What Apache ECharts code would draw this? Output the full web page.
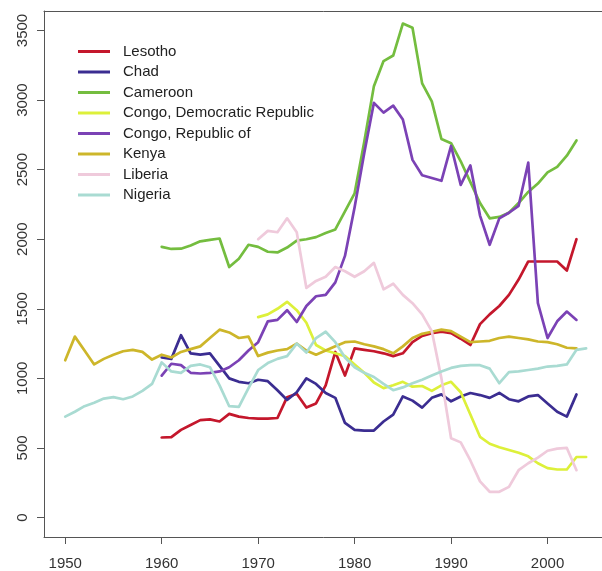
<!DOCTYPE html>
<html>
<head>
<meta charset="utf-8">
<title>GDP per capita – selected African countries</title>
<script src="https://cdn.jsdelivr.net/npm/echarts@6/dist/echarts.min.js"></script>
<style>
  html, body { margin: 0; padding: 0; background: #ffffff; }
  #chart { width: 602px; height: 571px; }
</style>
</head>
<body>
<div id="chart"></div>
<script>
// Years covered by the series (1950–2004); null = no observation
const years = [
  1950, 1951, 1952, 1953, 1954, 1955, 1956, 1957, 1958, 1959,
  1960, 1961, 1962, 1963, 1964, 1965, 1966, 1967, 1968, 1969,
  1970, 1971, 1972, 1973, 1974, 1975, 1976, 1977, 1978, 1979,
  1980, 1981, 1982, 1983, 1984, 1985, 1986, 1987, 1988, 1989,
  1990, 1991, 1992, 1993, 1994, 1995, 1996, 1997, 1998, 1999,
  2000, 2001, 2002, 2003, 2004
];

const lesotho = [
  null, null, null, null, null, null, null, null, null, null,
  575, 578, 630, 665, 700, 705, 690, 745, 725, 715,
  710, 710, 715, 865, 890, 790, 820, 950, 1190, 1020,
  1215, 1205, 1195, 1180, 1160, 1180, 1260, 1305, 1325, 1335,
  1325, 1285, 1240, 1390, 1460, 1520, 1600, 1710, 1840, 1840,
  1840, 1840, 1775, 2000, null
];

const chad = [
  null, null, null, null, null, null, null, null, null, null,
  1150, 1140, 1310, 1180, 1170, 1180, 1090, 1000, 975, 965,
  990, 980, 915, 845, 900, 1000, 960, 895, 860, 680,
  630, 625, 625, 690, 740, 870, 840, 790, 860, 885,
  835, 870, 895, 880, 860, 895, 850, 835, 870, 880,
  820, 760, 725, 885, null
];

const cameroon = [
  null, null, null, null, null, null, null, null, null, null,
  1945, 1930, 1932, 1955, 1985, 1995, 2005, 1800, 1860, 1960,
  1945, 1910, 1905, 1940, 1990, 2000, 2015, 2045, 2070, 2200,
  2330, 2700, 3100, 3280, 3320, 3550, 3520, 3120, 2990, 2720,
  2690, 2560, 2410, 2260, 2150, 2160, 2190, 2260, 2340, 2400,
  2480, 2520, 2600, 2710, null
];

const congoDR = [
  null, null, null, null, null, null, null, null, null, null,
  null, null, null, null, null, null, null, null, null, null,
  1440, 1460, 1500, 1550, 1490, 1400, 1240, 1200, 1180, 1160,
  1100, 1040, 970, 930, 950, 975, 940, 945, 910, 950,
  975, 900, 740, 580, 530, 505, 485, 465, 440, 390,
  355, 345, 345, 435, 435
];

const congoRep = [
  null, null, null, null, null, null, null, null, null, null,
  1020, 1105, 1095, 1040, 1035, 1040, 1050, 1080, 1130, 1200,
  1260, 1410, 1420, 1490, 1405, 1520, 1590, 1600, 1690, 1880,
  2230, 2620, 2980, 2910, 2960, 2860, 2570, 2460, 2440, 2420,
  2670, 2390, 2530, 2170, 1960, 2150, 2190, 2240, 2550, 1540,
  1290, 1410, 1480, 1420, null
];

const kenya = [
  1130, 1300, 1200, 1100, 1140, 1170, 1195, 1205, 1190, 1135,
  1170, 1150, 1190, 1210, 1230, 1290, 1350, 1330, 1290, 1300,
  1160, 1185, 1200, 1210, 1250, 1200, 1170, 1200, 1230, 1260,
  1265, 1245, 1230, 1210, 1180, 1230, 1290, 1320, 1335, 1350,
  1340, 1300, 1260, 1265, 1270, 1290, 1300, 1290, 1280, 1265,
  1260, 1245, 1220, 1215, null
];

const liberia = [
  null, null, null, null, null, null, null, null, null, null,
  null, null, null, null, null, null, null, null, null, null,
  2000, 2060, 2050, 2150, 2050, 1650, 1700, 1730, 1800, 1770,
  1730, 1770, 1830, 1640, 1680, 1600, 1540, 1460, 1340, 1000,
  570, 540, 410, 260, 185, 185, 220, 340, 390, 430,
  480, 495, 500, 340, null
];

const nigeria = [
  725, 760, 800, 825, 855, 865, 850, 870, 910, 960,
  1115, 1050, 1040, 1090, 1100, 1080, 950, 800, 795, 930,
  1060, 1110, 1140, 1160, 1250, 1185, 1290, 1335, 1260, 1150,
  1080, 1040, 1010, 960, 915, 935, 965, 990, 1020, 1050,
  1075, 1090, 1095, 1095, 1070, 965, 1045, 1050, 1060, 1070,
  1085, 1090, 1100, 1205, 1215
];

const countryNames = [
  'Lesotho', 'Chad', 'Cameroon', 'Congo, Democratic Republic',
  'Congo, Republic of', 'Kenya', 'Liberia', 'Nigeria'
];
const countryValues = [lesotho, chad, cameroon, congoDR, congoRep, kenya, liberia, nigeria];
const countryColors = [
  '#c4172c', '#3b2d91', '#74bd3f', '#ddf03a',
  '#7b42b5', '#cdb62a', '#efcadb', '#a9dbd2'
];

const xTicks = [1950, 1960, 1970, 1980, 1990, 2000];
const yTicks = [0, 500, 1000, 1500, 2000, 2500, 3000, 3500];

const FONT = '"Liberation Sans", Arial, Helvetica, sans-serif';
const AXIS_COLOR = '#555';
const X_MIN = 1947.8, X_MAX = 2007.2;

function toPairs(values) {
  const out = [];
  values.forEach((v, i) => { if (v !== null) out.push([years[i], v]); });
  return out;
}

const series = countryNames.map((name, i) => ({
  name: name,
  type: 'line',
  data: toPairs(countryValues[i]),
  showSymbol: false,
  symbol: 'none',
  smooth: false,
  color: countryColors[i],
  lineStyle: { width: 2.7, color: countryColors[i], cap: 'round', join: 'round' },
  emphasis: { disabled: true },
  animation: false
}));

const chart = echarts.init(document.getElementById('chart'), null, { renderer: 'canvas' });

chart.setOption({
  backgroundColor: '#ffffff',
  animation: false,
  grid: {
    left: 44, top: 11, width: 573, height: 526,
    outerBoundsMode: 'none',
    containLabel: false,
    show: false
  },
  legend: {
    orient: 'vertical',
    left: 78,
    top: 43,
    padding: 0,
    itemGap: 3.5,
    itemWidth: 32,
    itemHeight: 3,
    icon: 'rect',
    selectedMode: false,
    data: countryNames,
    textStyle: {
      fontFamily: FONT, fontSize: 15, color: '#222',
      lineHeight: 17, padding: [0, 0, 0, 8]
    }
  },
  xAxis: [
    {
      type: 'value',
      position: 'bottom',
      min: X_MIN,
      max: X_MAX,
      splitLine: { show: false },
      axisLine: { show: true, onZero: false, lineStyle: { color: AXIS_COLOR, width: 1 } },
      axisTick: {
        show: true, length: 7, inside: false,
        customValues: xTicks,
        lineStyle: { color: AXIS_COLOR, width: 1 }
      },
      axisLabel: {
        customValues: xTicks,
        margin: 19,
        fontFamily: FONT, fontSize: 15, color: '#333',
        formatter: v => String(v)
      }
    },
    {
      // top edge of the plot frame
      type: 'value',
      position: 'top',
      min: X_MIN,
      max: X_MAX,
      splitLine: { show: false },
      axisLine: { show: true, onZero: false, lineStyle: { color: AXIS_COLOR, width: 1 } },
      axisTick: { show: false },
      axisLabel: { show: false }
    }
  ],
  yAxis: {
    type: 'value',
    min: -140,
    max: 3640,
    splitLine: { show: false },
    axisLine: { show: true, onZero: false, lineStyle: { color: AXIS_COLOR, width: 1 } },
    axisTick: {
      show: true, length: 7, inside: false,
      customValues: yTicks,
      lineStyle: { color: AXIS_COLOR, width: 1 }
    },
    axisLabel: {
      customValues: yTicks,
      rotate: 90,
      margin: 14,
      fontFamily: FONT, fontSize: 15, color: '#333',
      formatter: v => String(v)
    }
  },
  series: series
});
</script>
</body>
</html>
